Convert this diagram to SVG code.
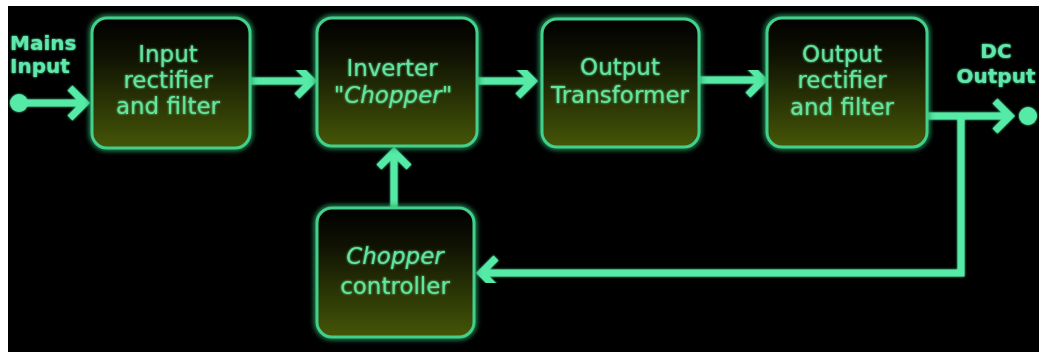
<svg xmlns="http://www.w3.org/2000/svg" width="1039" height="352" viewBox="0 0 1039 352">
<style>
.box{fill:url(#boxGrad);stroke:#42d08b;stroke-width:3}
.halo{fill:none;stroke:#2aa868;stroke-width:6;opacity:0.85;filter:url(#blur)}
.t{font-family:"DejaVu Sans","Verdana",sans-serif;font-size:23px;fill:#62e59c;text-anchor:middle;filter:url(#tglow)}
.lbl{font-family:"DejaVu Sans","Verdana",sans-serif;font-size:20px;font-weight:bold;fill:#5fe8aa;filter:url(#tglow)}
.it{font-style:italic}
.wire{fill:none;stroke:#55eaa6;stroke-width:7;stroke-linejoin:miter}
.dot{fill:#55eaa6}
</style>
<defs>
<linearGradient id="boxGrad" x1="0" y1="0" x2="0" y2="1">
<stop offset="0" stop-color="#000000"/>
<stop offset="0.3" stop-color="#101303"/>
<stop offset="1" stop-color="#455607"/>
</linearGradient>
<filter id="blur" x="-20%" y="-20%" width="140%" height="140%"><feGaussianBlur stdDeviation="2.5"/></filter>
<filter id="tglow" x="-10%" y="-30%" width="120%" height="160%">
<feGaussianBlur in="SourceGraphic" stdDeviation="1" result="b"/>
<feMerge><feMergeNode in="b"/><feMergeNode in="SourceGraphic"/></feMerge>
</filter>
<filter id="lglow" x="-5%" y="-5%" width="110%" height="110%">
<feGaussianBlur in="SourceGraphic" stdDeviation="1.2" result="b"/>
<feMerge><feMergeNode in="b"/><feMergeNode in="SourceGraphic"/></feMerge>
</filter>
<marker id="arr" markerUnits="userSpaceOnUse" viewBox="-30 -22 44 44" refX="-8" refY="0" markerWidth="44" markerHeight="44" orient="auto" overflow="visible">
<path d="M-20,-15 L-5,0 L-20,15" fill="none" stroke="#55eaa6" stroke-width="7" stroke-linejoin="miter"/>
</marker>
</defs>
<rect x="0" y="0" width="1039" height="352" fill="#ffffff"/>
<rect x="8" y="6" width="1031" height="346" fill="#000000"/>

<g id="connectors" filter="url(#lglow)">
<circle class="dot" cx="19" cy="103" r="9"/>
<path class="wire" d="M19,103 H82" marker-end="url(#arr)"/>
<path class="wire" d="M250,81 H309" marker-end="url(#arr)"/>
<path class="wire" d="M477,81 H530" marker-end="url(#arr)"/>
<path class="wire" d="M699,80 H760" marker-end="url(#arr)"/>
<path class="wire" d="M927,116 H1007" marker-end="url(#arr)"/>
<circle class="dot" cx="1028" cy="116" r="9"/>
<path class="wire" d="M961,116 V273 H484" marker-end="url(#arr)"/>
<path class="wire" d="M394,208 V155" marker-end="url(#arr)"/>
</g>

<g id="label-mains">
<text class="lbl" x="10" y="50">Mains</text>
<text class="lbl" x="10" y="73">Input</text>
</g>
<g id="label-dc">
<text class="lbl" x="996" y="58" text-anchor="middle">DC</text>
<text class="lbl" x="996" y="83" text-anchor="middle">Output</text>
</g>

<g id="input-rectifier">
<rect class="halo" x="92" y="18" width="158" height="130" rx="15"/>
<rect class="box" x="92" y="18" width="158" height="130" rx="15"/>
<text class="t" x="168" y="62">Input</text>
<text class="t" x="168" y="88">rectifier</text>
<text class="t" x="168" y="114">and filter</text>
</g>

<g id="inverter">
<rect class="halo" x="317" y="18" width="160" height="128" rx="15"/>
<rect class="box" x="317" y="18" width="160" height="128" rx="15"/>
<text class="t" x="392" y="76">Inverter</text>
<text class="t it" x="393" y="103">"Chopper"</text>
</g>

<g id="output-transformer">
<rect class="halo" x="542" y="19" width="157" height="128" rx="15"/>
<rect class="box" x="542" y="19" width="157" height="128" rx="15"/>
<text class="t" x="620" y="75">Output</text>
<text class="t" x="620" y="103">Transformer</text>
</g>

<g id="output-rectifier">
<rect class="halo" x="767" y="18" width="160" height="129" rx="15"/>
<rect class="box" x="767" y="18" width="160" height="129" rx="15"/>
<text class="t" x="842" y="62">Output</text>
<text class="t" x="842" y="88">rectifier</text>
<text class="t" x="842" y="115">and filter</text>
</g>

<g id="chopper-controller">
<rect class="halo" x="317" y="208" width="157" height="129" rx="15"/>
<rect class="box" x="317" y="208" width="157" height="129" rx="15"/>
<text class="t it" x="395" y="264">Chopper</text>
<text class="t" x="395" y="294">controller</text>
</g>
</svg>
